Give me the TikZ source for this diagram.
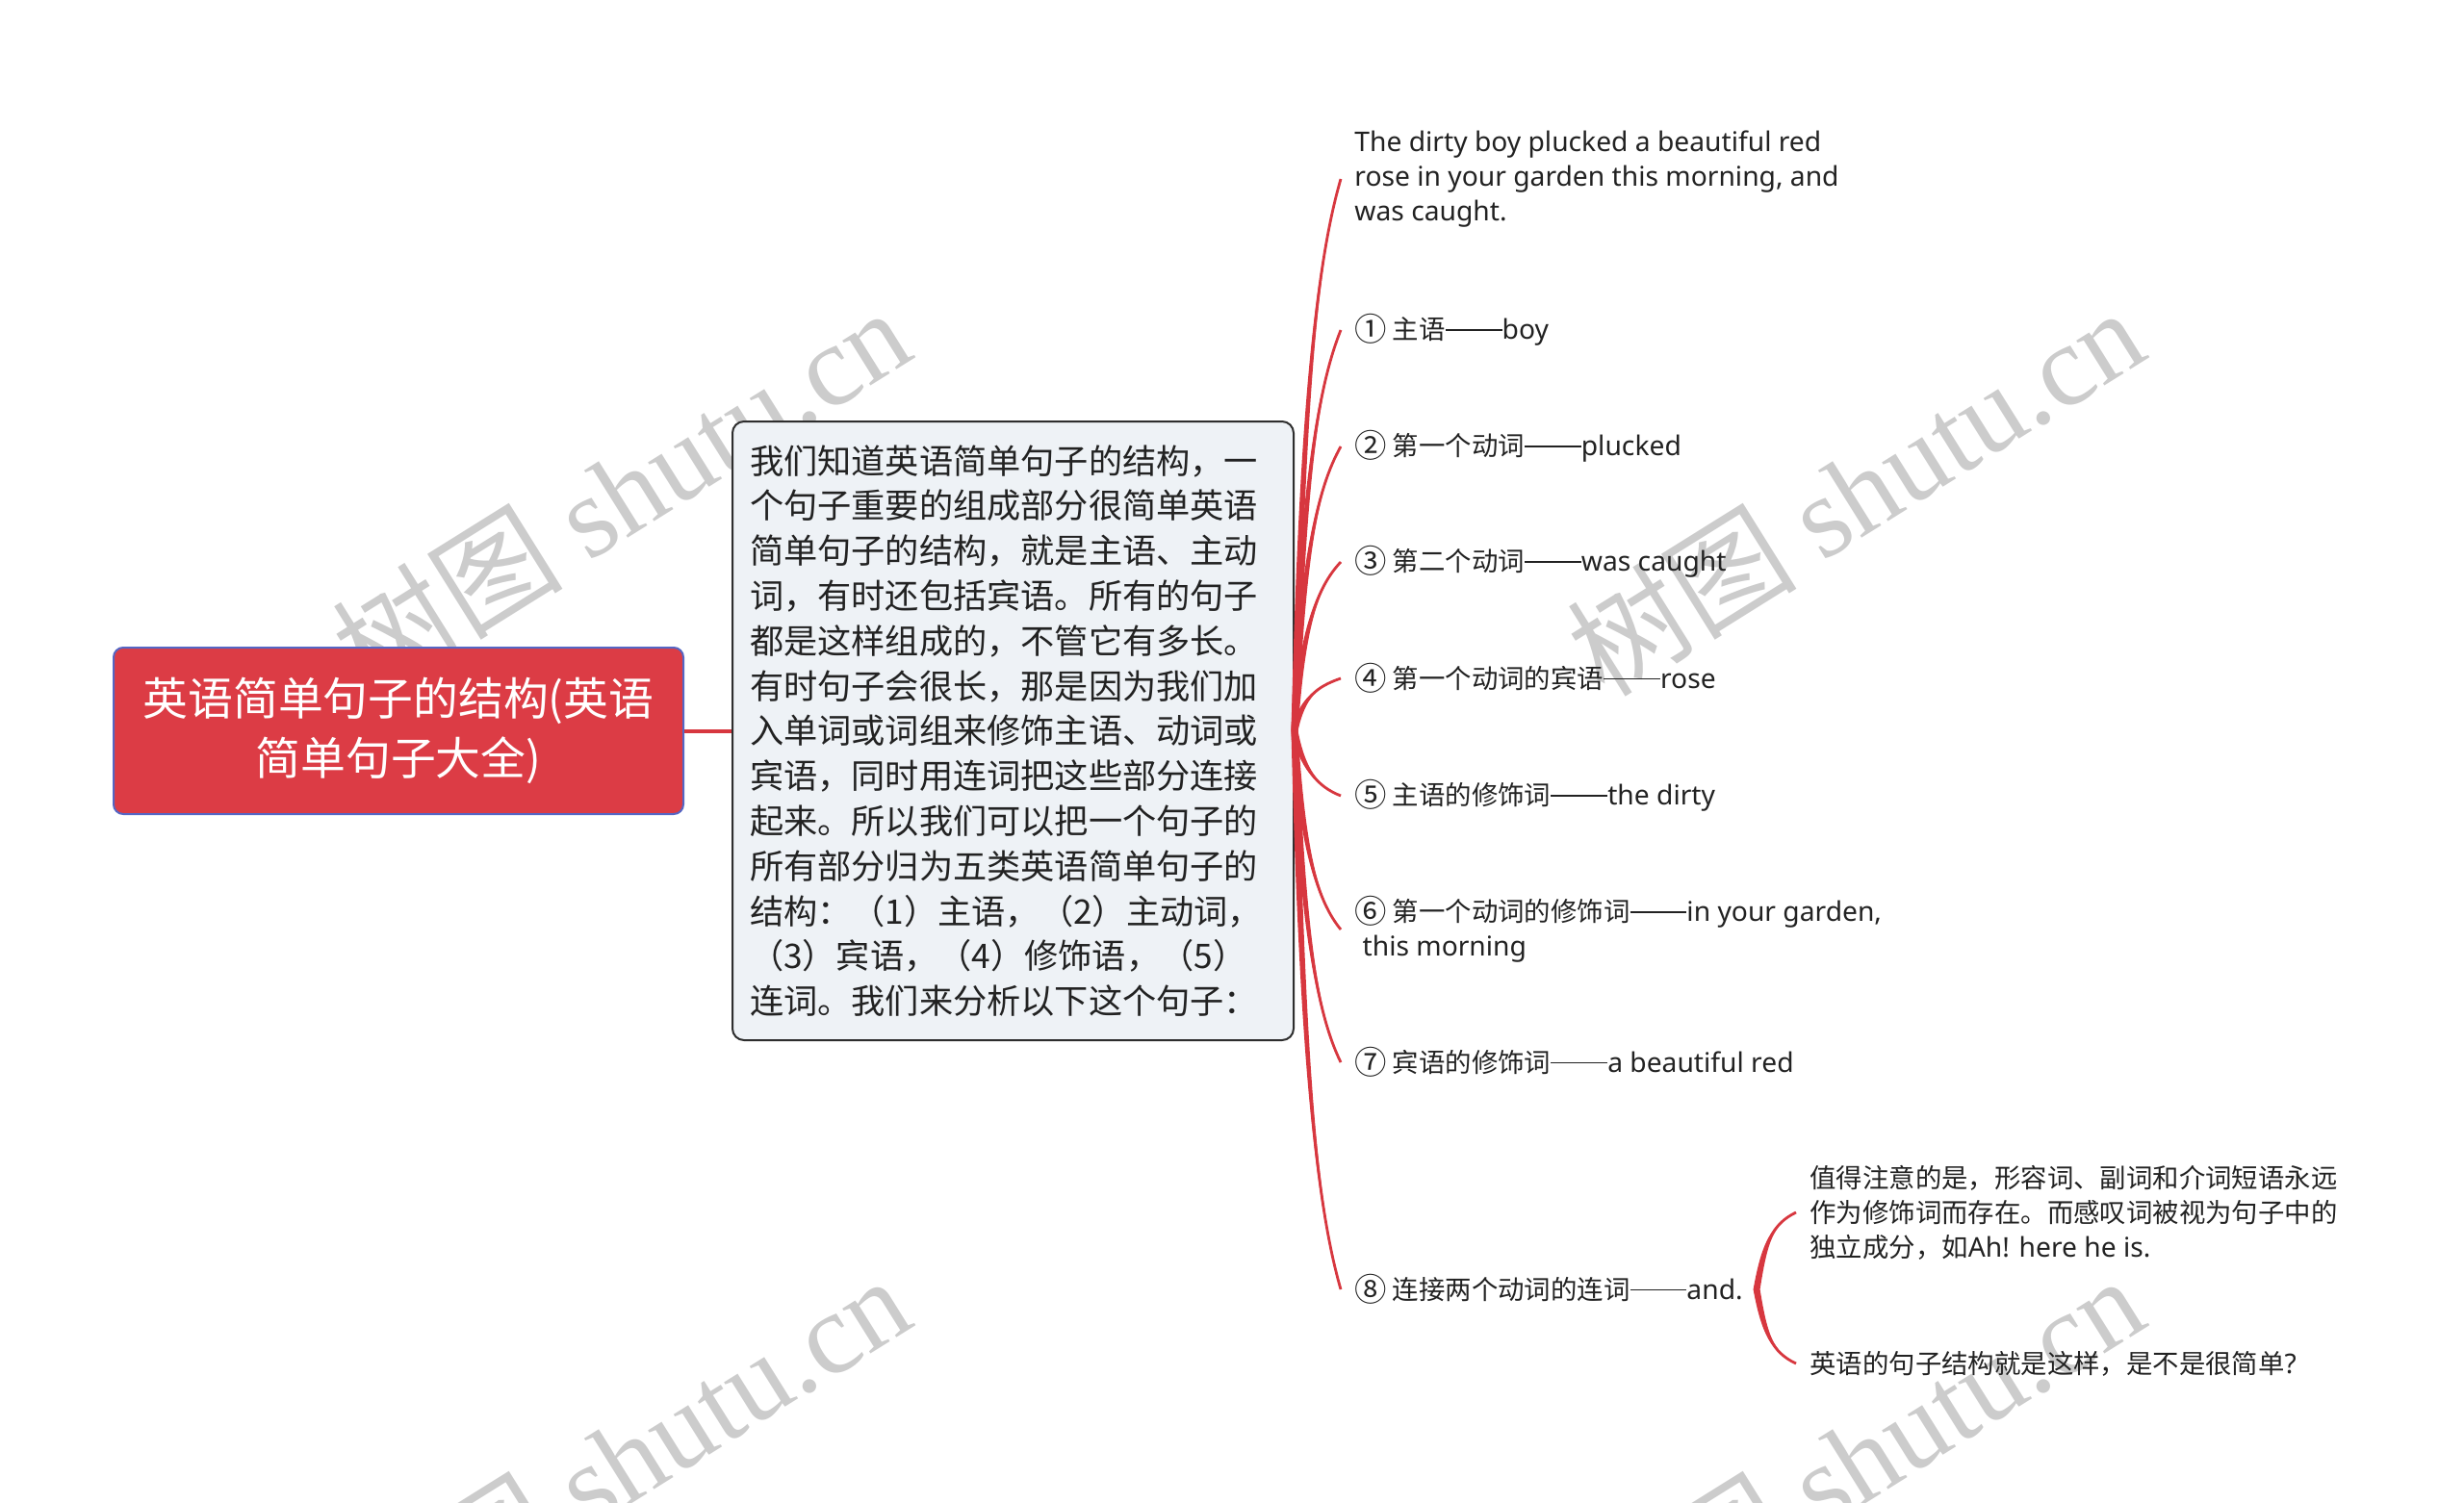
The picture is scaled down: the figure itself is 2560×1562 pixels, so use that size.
\documentclass[tikz,border=0pt]{standalone}
\usepackage{fontspec}
\usepackage{graphicx}
\setmainfont{Noto Sans CJK SC}
\newfontfamily\wmserif{Liberation Serif}
\newfontfamily\latf{Noto Sans}[Scale=1.03]
\newcommand\lt[1]{{\latf #1}}
\newcommand\dd{\rule[0.33em]{2.15em}{0.06em}}
\newcommand\cn[1]{\raisebox{-0.08em}{\scalebox{1.22}{#1}}}
\usetikzlibrary{calc}
\definecolor{brred}{HTML}{D7373F}
\definecolor{rootred}{HTML}{DC3C45}
\definecolor{rootedge}{HTML}{5566C4}
\definecolor{midfill}{HTML}{EEF2F6}
\definecolor{midedge}{HTML}{2E2E2E}
\definecolor{txt}{HTML}{222222}
\definecolor{wmgray}{HTML}{CCCCCC}
\newcommand\tbr[3]{%
 \fill[brred] ($(#1)+(-3.5,0)$) .. controls ($(#1)+({8-3},{0.6*(#3)})$) and ($(#2)+({-25-1},{-0.15*(#3)})$) .. (#2) .. controls ($(#2)+({-25+1},{-0.15*(#3)})$) and ($(#1)+({8+3},{0.6*(#3)})$) .. ($(#1)+(3.5,0)$) -- cycle;
 \draw[brred, line width=1.4pt] (#1) .. controls ($(#1)+(8,{0.6*(#3)})$) and ($(#2)+(-25,{-0.15*(#3)})$) .. (#2);}
\tikzset{
 rootbox/.style={draw=rootedge, line width=1pt, fill=rootred, rounded corners=5pt, text=white,
   minimum width=296pt, minimum height=86.5pt, align=center, inner sep=0pt,
   font=\fontsize{23.4pt}{31pt}\selectfont},
 midbox/.style={draw=midedge, line width=1pt, fill=midfill, rounded corners=6pt, text=txt,
   text width=273.5pt, minimum height=321.5pt, inner xsep=9pt, inner ysep=0pt, align=left,
   font=\fontsize{17.6pt}{23.4pt}\selectfont},
 chl/.style={anchor=west, inner xsep=7pt, inner ysep=1pt, align=left, text=txt,
   font=\fontsize{13.7pt}{18pt}\selectfont},
 wmark/.style={rotate=32, text=wmgray, inner sep=0pt, font=\fontsize{60pt}{64pt}\selectfont}
}
\begin{document}
\begin{tikzpicture}[x=0.5pt, y=-0.5pt]
\useasboundingbox (0,0) rectangle (2560,1562);
\begin{scope}
\clip (0,0) rectangle (2560,1562);
\node[wmark] (wm1) at (645,510) {树图 {\wmserif shutu.cn}};
\node[wmark] (wm2) at (1927,510) {树图 {\wmserif shutu.cn}};
\node[wmark] (wm3) at (645,1516) {树图 {\wmserif shutu.cn}};
\node[wmark] (wm4) at (1927,1516) {树图 {\wmserif shutu.cn}};
\end{scope}

\node[rootbox] (root) at (414,759.5) {英语简单句子的结构(英语\\简单句子大全)};
\node[midbox] (mid) at (1052.5,759.5) {我们知道英语简单句子的结构，一\\
个句子重要的组成部分很简单英语\\
简单句子的结构，就是主语、主动\\
词，有时还包括宾语。所有的句子\\
都是这样组成的，不管它有多长。\\
有时句子会很长，那是因为我们加\\
入单词或词组来修饰主语、动词或\\
宾语，同时用连词把这些部分连接\\
起来。所以我们可以把一个句子的\\
所有部分归为五类英语简单句子的\\
结构：（1）主语，（2）主动词，\\
（3）宾语，（4）修饰语，（5）\\
连词。我们来分析以下这个句子：};

\draw[brred, line width=2pt] (root.east) -- (mid.west);

\node[chl] (t0) at (1393,186) {\lt{The dirty boy plucked a beautiful red}\\\lt{rose in your garden this morning, and}\\\lt{was caught.}};
\node[chl] (c1) at (1393,343) {\cn{①} 主语\dd\lt{boy}};
\node[chl] (c2) at (1393,464) {\cn{②} 第一个动词\dd\lt{plucked}};
\node[chl] (c3) at (1393,584) {\cn{③} 第二个动词\dd\lt{was caught}};
\node[chl] (c4) at (1393,705) {\cn{④} 第一个动词的宾语\dd\lt{rose}};
\node[chl] (c5) at (1393,827) {\cn{⑤} 主语的修饰词\dd\lt{the dirty}};
\node[chl] (c6) at (1393,966) {\cn{⑥} 第一个动词的修饰词\dd\lt{in your garden,}\\\hspace{0.3em}\lt{this morning}};
\node[chl] (c7) at (1393,1104) {\cn{⑦} 宾语的修饰词\dd\lt{a beautiful red}};
\node[chl] (c8) at (1393,1340) {\cn{⑧} 连接两个动词的连词\dd\lt{and.}};
\node[chl] (d1) at (1866,1260) {值得注意的是，形容词、副词和介词短语永远\\作为修饰词而存在。而感叹词被视为句子中的\\独立成分，如\lt{Ah! here he is.}};
\node[chl] (d2) at (1866,1417) {英语的句子结构就是这样，是不是很简单\lt{?}};

\tbr{mid.east}{t0.west}{-576.5}
\tbr{mid.east}{c1.west}{-419.5}
\tbr{mid.east}{c2.west}{-298.5}
\tbr{mid.east}{c3.west}{-178.5}
\tbr{mid.east}{c4.west}{-57.5}
\tbr{mid.east}{c5.west}{64.5}
\tbr{mid.east}{c6.west}{203.5}
\tbr{mid.east}{c7.west}{341.5}
\tbr{mid.east}{c8.west}{577.5}
\tbr{c8.east}{d1.west}{-80}
\tbr{c8.east}{d2.west}{77}
\end{tikzpicture}
\end{document}
